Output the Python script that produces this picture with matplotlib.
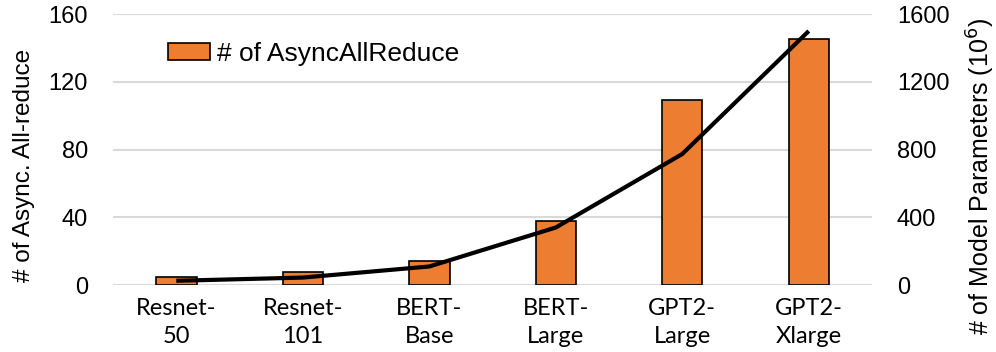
import matplotlib
matplotlib.use('Agg')
from matplotlib import pyplot as plt
import numpy as np

models = ['Resnet-\n50', 'Resnet-\n101', 'BERT-\nBase', 'BERT-\nLarge', 'GPT2-\nLarge', 'GPT2-\nXlarge']
async_allreduce = [5, 8, 14, 38, 109, 145]
model_params = [25.6, 44.5, 110, 340, 774, 1500]

plt.rcParams['font.family'] = ['Liberation Sans', 'DejaVu Sans']

fig = plt.figure(figsize=(9.96, 3.52), dpi=100)
ax = fig.add_axes([0.1135, 0.190, 0.762, 0.770])
ax2 = ax.twinx()

x = np.arange(len(models))
ax.bar(x, async_allreduce, width=0.32, color='#ED7D31', edgecolor='black',
       linewidth=1.2, label='# of AsyncAllReduce', zorder=2)
ax2.plot(x, model_params, color='black', linewidth=3, solid_capstyle='butt', zorder=3)

ax.set_xlim(-0.5, len(models) - 0.5)
ax.set_ylim(0, 160)
ax.set_yticks([0, 40, 80, 120, 160])
ax2.set_ylim(0, 1600)
ax2.set_yticks([0, 400, 800, 1200, 1600])

ax.set_xticks(x)
ax.set_xticklabels(models, fontsize=17, family=['Lato', 'DejaVu Sans'], linespacing=1.45)
ax.tick_params(axis='y', labelsize=17, length=0, pad=18)
ax.tick_params(axis='x', length=0, pad=9)
ax2.tick_params(axis='y', labelsize=17, length=0, pad=18)

ax.grid(axis='y', color='#d9d9d9', linewidth=1.5, zorder=0)
ax.set_axisbelow(True)
for a in (ax, ax2):
    for s in a.spines.values():
        s.set_visible(False)

ax.set_ylabel('# of Async. All-reduce', fontsize=17.5)
ax.yaxis.set_label_coords(-0.103, 0.443)
ax2.set_ylabel('# of Model Parameters (10$^6$)', fontsize=18)
ax2.yaxis.set_label_coords(1.1225, 0.402)

ax.legend(loc='upper left', bbox_to_anchor=(0.041, 0.985), frameon=False, fontsize=19,
          handlelength=1.6, handleheight=0.65, handletextpad=0.25)

fig.savefig('out.png', dpi=100)
